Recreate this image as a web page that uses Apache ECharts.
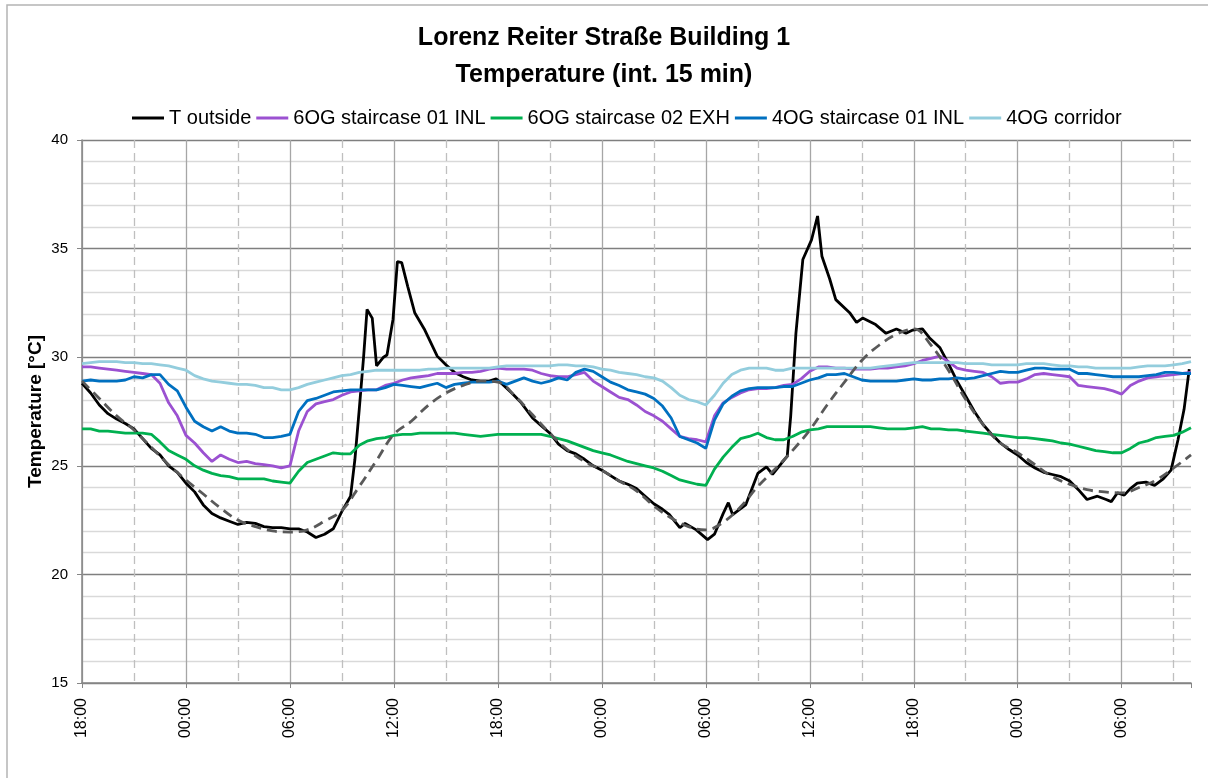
<!DOCTYPE html>
<html>
<head>
<meta charset="utf-8">
<script src="https://cdn.jsdelivr.net/npm/echarts@6.0.0/dist/echarts.min.js"></script>
<style>
  html, body { margin: 0; padding: 0; background: #fff; }
  #chart { width: 1208px; height: 778px; }
</style>
</head>
<body>
<div id="chart"></div>
<script>
// hours since 18:00 of the first day, half-hour samples (0 .. 64)
const halfHours = Array.from({ length: 129 }, (_, i) => i / 2);
const hourSteps = Array.from({ length: 65 }, (_, i) => i);

const seriesNames = ['T outside', '6OG staircase 01 INL', '6OG staircase 02 EXH', '4OG staircase 01 INL', '4OG corridor'];

// outside temperature, read at irregular times so the peaks are kept
const outsideHours = [
  0, 0.5, 1, 1.5, 2, 2.5, 3, 3.5, 4, 4.5, 5, 5.5, 6, 6.5, 7, 7.5, 8, 8.5, 9, 9.5, 10, 10.5, 11, 11.5,
  12, 12.5, 13, 13.5, 14, 14.5, 15, 15.5, 15.75, 16, 16.25, 16.45, 16.75, 17, 17.4, 17.6, 17.95, 18.2,
  18.45, 18.8, 19.2, 19.75, 20.5, 21, 21.5, 22, 22.5, 23, 23.5, 23.9, 24.2, 24.8, 25.35, 26, 26.5, 27,
  27.5, 28, 28.5, 29, 29.5, 30, 30.5, 31, 31.5, 32, 32.5, 33, 33.5, 33.9, 34.5, 34.8, 35.45, 36.1, 36.5,
  37, 37.3, 37.55, 38.3, 39, 39.5, 39.85, 40.7, 40.9, 41.2, 41.6, 42.1, 42.45, 42.7, 43.15, 43.5, 44.3,
  44.7, 45.05, 45.8, 46.4, 47, 47.55, 47.95, 48.5, 48.9, 49.5, 50, 50.5, 51, 51.5, 52, 52.5, 53, 53.5,
  54, 54.5, 55, 55.5, 56, 56.5, 57, 57.5, 58, 58.6, 59.1, 59.4, 59.75, 60.15, 60.5, 60.9, 61.4, 61.9,
  62.4, 62.85, 63.25, 63.6, 63.9
];
const outsideTemp = [
  28.8, 28.35, 27.8, 27.4, 27.15, 26.95, 26.7, 26.25, 25.8, 25.5, 25.0, 24.7, 24.2, 23.8, 23.2, 22.8, 22.6, 22.45, 22.3, 22.4, 22.35, 22.2, 22.15, 22.15,
  22.1, 22.1, 21.95, 21.7, 21.85, 22.1, 22.9, 23.6, 25.3, 27.6, 30.0, 32.2, 31.8, 29.6, 30.0, 30.1, 31.75, 34.4,
  34.35, 33.25, 32.05, 31.3, 30.05, 29.65, 29.3, 29.1, 28.95, 28.9, 28.9, 29.0, 28.8, 28.35, 27.9, 27.2, 26.85, 26.5,
  26.0, 25.7, 25.55, 25.3, 25.0, 24.8, 24.55, 24.3, 24.15, 23.95, 23.6, 23.25, 23.0, 22.75, 22.15, 22.35, 22.05, 21.6, 21.85,
  22.8, 23.3, 22.75, 23.2, 24.65, 24.95, 24.6, 25.45, 27.3, 31.1, 34.5, 35.4, 36.5, 34.65, 33.6, 32.65, 32.05,
  31.6, 31.8, 31.5, 31.1, 31.3, 31.1, 31.25, 31.3, 30.9, 30.45, 29.7, 28.9, 28.2, 27.5, 26.9, 26.45, 26.05, 25.75,
  25.5, 25.15, 24.9, 24.7, 24.6, 24.5, 24.3, 23.9, 23.45, 23.6, 23.45, 23.35, 23.75, 23.65, 23.95, 24.2, 24.25, 24.1,
  24.4, 24.8, 26.2, 27.6, 29.45
];

const staircase6Inl = [
  29.55, 29.55, 29.5, 29.45, 29.4, 29.35, 29.3, 29.25, 29.2, 28.8, 27.9, 27.3,
  26.4, 26.05, 25.6, 25.2, 25.5, 25.3, 25.15, 25.2, 25.1, 25.05, 25.0, 24.9,
  25.0, 26.6, 27.5, 27.85, 27.95, 28.05, 28.25, 28.4, 28.45, 28.5, 28.5, 28.7,
  28.8, 28.95, 29.05, 29.1, 29.15, 29.25, 29.25, 29.25, 29.3, 29.3, 29.35, 29.45,
  29.5, 29.45, 29.45, 29.45, 29.4, 29.25, 29.15, 29.1, 29.1, 29.2, 29.3, 28.9,
  28.65, 28.4, 28.15, 28.05, 27.8, 27.5, 27.3, 27.05, 26.7, 26.35, 26.25, 26.2,
  26.1, 27.3, 27.9, 28.15, 28.35, 28.5, 28.55, 28.55, 28.6, 28.7, 28.75, 29.0,
  29.35, 29.55, 29.55, 29.5, 29.5, 29.45, 29.45, 29.45, 29.5, 29.5, 29.55, 29.6,
  29.7, 29.85, 29.95, 30.05, 29.8, 29.5, 29.4, 29.35, 29.3, 29.1, 28.8, 28.85,
  28.85, 29.0, 29.2, 29.25, 29.2, 29.15, 29.1, 28.7, 28.65, 28.6, 28.55, 28.45,
  28.3, 28.7, 28.9, 29.05, 29.1, 29.15, 29.2, 29.25, 29.3
];

const staircase6Exh = [
  26.7, 26.7, 26.6, 26.6, 26.55, 26.5, 26.5, 26.5, 26.45, 26.1, 25.7, 25.5,
  25.3, 25.0, 24.8, 24.65, 24.55, 24.5, 24.4, 24.4, 24.4, 24.4, 24.3, 24.25,
  24.2, 24.75, 25.15, 25.3, 25.45, 25.6, 25.55, 25.55, 25.95, 26.15, 26.25, 26.3,
  26.4, 26.45, 26.45, 26.5, 26.5, 26.5, 26.5, 26.5, 26.45, 26.4, 26.35, 26.4,
  26.45, 26.45, 26.45, 26.45, 26.45, 26.45, 26.35, 26.25, 26.15, 26.0, 25.85, 25.7,
  25.6, 25.5, 25.35, 25.2, 25.1, 25.0, 24.9, 24.75, 24.55, 24.35, 24.25, 24.15,
  24.1, 24.85, 25.4, 25.85, 26.25, 26.35, 26.5, 26.3, 26.2, 26.2, 26.35, 26.55,
  26.65, 26.7, 26.8, 26.8, 26.8, 26.8, 26.8, 26.8, 26.75, 26.7, 26.7, 26.7,
  26.75, 26.8, 26.7, 26.7, 26.65, 26.65, 26.6, 26.55, 26.5, 26.45, 26.4, 26.35,
  26.3, 26.3, 26.25, 26.2, 26.15, 26.05, 26.0, 25.9, 25.8, 25.7, 25.65, 25.6,
  25.6, 25.8, 26.05, 26.15, 26.3, 26.35, 26.4, 26.55, 26.75
];

const staircase4Inl = [
  28.9, 28.95, 28.9, 28.9, 28.9, 28.95, 29.1, 29.05, 29.2, 29.2, 28.75, 28.45,
  27.7, 27.05, 26.8, 26.6, 26.8, 26.6, 26.5, 26.5, 26.45, 26.3, 26.3, 26.35,
  26.45, 27.5, 28.0, 28.1, 28.25, 28.4, 28.45, 28.5, 28.5, 28.5, 28.5, 28.6,
  28.75, 28.7, 28.65, 28.6, 28.7, 28.8, 28.6, 28.75, 28.8, 28.85, 28.85, 28.85,
  28.9, 28.75, 28.9, 29.05, 28.9, 28.8, 28.9, 29.05, 28.95, 29.3, 29.45, 29.35,
  29.1, 28.85, 28.7, 28.5, 28.4, 28.3, 28.1, 27.75, 27.2, 26.35, 26.2, 26.05,
  25.8, 27.1, 27.85, 28.2, 28.45, 28.55, 28.6, 28.6, 28.6, 28.65, 28.65, 28.8,
  28.95, 29.05, 29.2, 29.2, 29.25, 29.1, 28.95, 28.9, 28.9, 28.9, 28.9, 28.95,
  29.0, 28.95, 28.95, 29.0, 29.0, 29.05, 29.0, 29.05, 29.15, 29.25, 29.35, 29.3,
  29.3, 29.4, 29.5, 29.5, 29.45, 29.45, 29.45, 29.25, 29.25, 29.2, 29.15, 29.1,
  29.1, 29.1, 29.1, 29.15, 29.2, 29.3, 29.3, 29.25, 29.25
];

const corridor4 = [
  29.7, 29.75, 29.8, 29.8, 29.8, 29.75, 29.75, 29.7, 29.7, 29.65, 29.6, 29.5,
  29.4, 29.15, 29.0, 28.9, 28.85, 28.8, 28.75, 28.75, 28.7, 28.6, 28.6, 28.5,
  28.5, 28.6, 28.75, 28.85, 28.95, 29.05, 29.15, 29.2, 29.3, 29.35, 29.4, 29.4,
  29.4, 29.4, 29.4, 29.4, 29.45, 29.45, 29.5, 29.5, 29.5, 29.5, 29.5, 29.5,
  29.55, 29.6, 29.6, 29.6, 29.6, 29.6, 29.6, 29.65, 29.65, 29.6, 29.6, 29.55,
  29.45, 29.4, 29.3, 29.25, 29.2, 29.1, 29.05, 28.9, 28.6, 28.25, 28.05, 27.95,
  27.8, 28.25, 28.8, 29.2, 29.4, 29.5, 29.5, 29.5, 29.4, 29.4, 29.5, 29.5,
  29.5, 29.5, 29.5, 29.5, 29.5, 29.5, 29.5, 29.5, 29.55, 29.6, 29.65, 29.7,
  29.75, 29.75, 29.75, 29.75, 29.75, 29.75, 29.7, 29.7, 29.7, 29.65, 29.65, 29.65,
  29.65, 29.7, 29.7, 29.7, 29.65, 29.6, 29.6, 29.55, 29.55, 29.5, 29.5, 29.5,
  29.5, 29.5, 29.55, 29.6, 29.6, 29.6, 29.65, 29.7, 29.8
];

// dashed grey reference curve of the outside temperature, hourly
const outsideTrend = [
  28.9, 28.1, 27.3, 26.65, 25.85, 25.05, 24.35, 23.7, 23.05, 22.5, 22.2, 22.0,
  21.95, 22.05, 22.45, 22.95, 24.05, 25.25, 26.45, 27.05, 27.8, 28.35, 28.7, 28.9,
  28.85, 28.2, 27.35, 26.5, 25.75, 25.2, 24.8, 24.3, 23.85, 23.15, 22.6, 22.2,
  22.05, 22.4, 23.1, 24.05, 24.85, 25.7, 26.65, 27.8, 28.85, 29.85, 30.55, 31.05,
  31.3, 30.55, 29.4, 28.05, 26.9, 26.05, 25.6, 25.05, 24.5, 24.15, 23.9, 23.8,
  23.75, 24.0, 24.35, 24.9, 25.5
];

const colors = ['#000000', '#9b51d1', '#00b050', '#0070c0', '#93cddd'];
const fontFamily = 'Liberation Sans, Arial, sans-serif';

const zip = (xs, ys) => xs.map((x, i) => [x, ys[i]]);

const lineSeries = (name, data, color) => ({
  name,
  type: 'line',
  data,
  showSymbol: false,
  symbol: 'none',
  lineStyle: { color, width: 2.8 },
  itemStyle: { color },
  emphasis: { disabled: true }
});

const hourLabel = (v) => {
  if (v > 60) return '';
  const h = (18 + v) % 24;
  return (h < 10 ? '0' : '') + h + ':00';
};

const chart = echarts.init(document.getElementById('chart'));

chart.setOption({
  animation: false,
  backgroundColor: '#fff',
  textStyle: { fontFamily },
  graphic: [{
    type: 'rect',
    shape: { x: 7, y: 5, width: 1300, height: 900 },
    style: { fill: 'none', stroke: '#b4b4b4', lineWidth: 1.5 },
    silent: true
  }],
  title: {
    text: 'Lorenz Reiter Straße Building 1\nTemperature (int. 15 min)',
    left: 'center',
    top: 15,
    textStyle: { fontFamily, fontSize: 25, fontWeight: 'bold', color: '#000', lineHeight: 37 }
  },
  legend: {
    top: 103,
    left: 127,
    data: seriesNames,
    icon: 'rect',
    itemWidth: 32,
    itemHeight: 3,
    itemGap: 5,
    textStyle: { fontFamily, fontSize: 20, color: '#000' }
  },
  grid: { left: 82, right: 17, top: 140, bottom: 95, containLabel: false },
  xAxis: {
    type: 'value',
    min: 0,
    max: 64,
    interval: 6,
    axisLine: { show: true, lineStyle: { color: '#868686', width: 1.5 } },
    axisTick: { show: true, length: 5, lineStyle: { color: '#868686' } },
    axisLabel: {
      rotate: 90,
      margin: 15,
      fontSize: 16,
      color: '#000',
      formatter: hourLabel
    },
    splitLine: { show: true, showMaxLine: false, lineStyle: { color: '#a6a6a6', width: 1.3 } },
    minorTick: { show: false, splitNumber: 2 },
    minorSplitLine: { show: true, lineStyle: { color: '#bfbfbf', width: 1.3, type: [8, 5] } }
  },
  yAxis: {
    type: 'value',
    min: 15,
    max: 40,
    interval: 5,
    name: 'Temperature [°C]',
    nameLocation: 'middle',
    nameGap: 37,
    nameMoveOverlap: false,
    nameTextStyle: { fontFamily, fontSize: 19, fontWeight: 'bold', color: '#000' },
    axisLine: { show: true, lineStyle: { color: '#868686', width: 1.5 } },
    axisTick: { show: true, length: 5, lineStyle: { color: '#868686' } },
    axisLabel: { fontSize: 15, color: '#000', margin: 14 },
    splitLine: { show: true, lineStyle: { color: '#7f7f7f', width: 1.3 } },
    minorTick: { show: false, splitNumber: 5 },
    minorSplitLine: { show: true, lineStyle: { color: '#d9d9d9', width: 1.3 } }
  },
  series: [
    lineSeries(seriesNames[0], zip(outsideHours, outsideTemp), colors[0]),
    lineSeries(seriesNames[1], zip(halfHours, staircase6Inl), colors[1]),
    lineSeries(seriesNames[2], zip(halfHours, staircase6Exh), colors[2]),
    lineSeries(seriesNames[3], zip(halfHours, staircase4Inl), colors[3]),
    lineSeries(seriesNames[4], zip(halfHours, corridor4), colors[4]),
    {
      name: 'trend',
      type: 'line',
      data: zip(hourSteps, outsideTrend),
      smooth: 0.4,
      showSymbol: false,
      symbol: 'none',
      lineStyle: { color: '#595959', width: 2.8, type: [10, 6] },
      emphasis: { disabled: true },
      z: 3
    }
  ]
});
</script>
</body>
</html>
